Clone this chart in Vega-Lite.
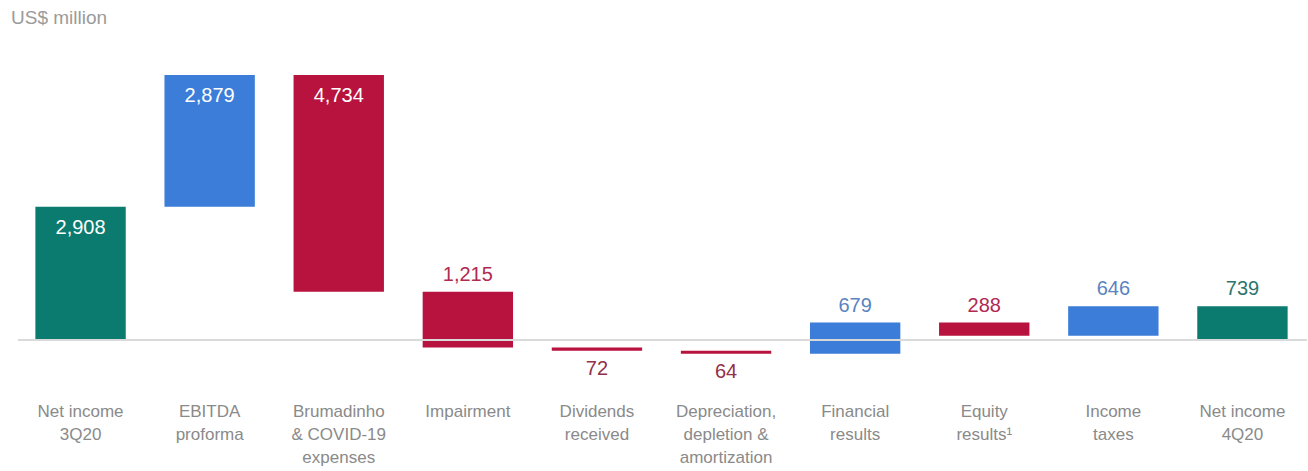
{
  "$schema": "https://vega.github.io/schema/vega-lite/v6.json",
  "autosize": "none",
  "width": 1291,
  "height": 355,
  "padding": {"left": 16, "top": 40, "right": 1, "bottom": 76},
  "background": "white",
  "config": {"view": {"stroke": null}, "font": "Liberation Sans"},
  "title": {"text": "US$ million", "anchor": "start", "frame": "group", "dx": -5, "offset": 12, "fontSize": 19, "fontWeight": "normal", "color": "#9a9a9a", "font": "Liberation Sans"},
  "data": {"values": [
    {"category": "Net income|3Q20", "start": 0, "end": 2908, "amount": 2908, "type": "total"},
    {"category": "EBITDA|proforma", "start": 2908, "end": 5787, "amount": 2879, "type": "increase"},
    {"category": "Brumadinho|& COVID-19|expenses", "start": 5787, "end": 1053, "amount": 4734, "type": "decrease"},
    {"category": "Impairment", "start": 1053, "end": -162, "amount": 1215, "type": "decrease"},
    {"category": "Dividends|received", "start": -162, "end": -234, "amount": 72, "type": "decrease"},
    {"category": "Depreciation,|depletion &|amortization", "start": -234, "end": -298, "amount": 64, "type": "decrease"},
    {"category": "Financial|results", "start": -298, "end": 381, "amount": 679, "type": "increase"},
    {"category": "Equity|results¹", "start": 381, "end": 93, "amount": 288, "type": "decrease"},
    {"category": "Income|taxes", "start": 93, "end": 739, "amount": 646, "type": "increase"},
    {"category": "Net income|4Q20", "start": 0, "end": 739, "amount": 739, "type": "total"}
  ]},
  "encoding": {
    "x": {"field": "category", "type": "nominal", "sort": null,
      "scale": {"paddingInner": 0.3, "paddingOuter": 0.15},
      "axis": {"title": null, "domain": false, "ticks": false, "labelAngle": 0, "labelPadding": 8, "labelFontSize": 17, "labelColor": "#8a8a8a", "labelFont": "Liberation Sans", "labelLineHeight": 23, "labelBaseline": "top", "labelOverlap": false, "labelLimit": 0, "labelBound": false, "labelExpr": "split(datum.label, '|')"}}
  },
  "layer": [
    {
      "mark": {"type": "bar"},
      "encoding": {
        "y": {"field": "start", "type": "quantitative", "scale": {"domain": [-1201, 6550], "nice": false, "zero": false}, "axis": null},
        "y2": {"field": "end"},
        "color": {"field": "type", "type": "nominal", "scale": {"domain": ["total", "increase", "decrease"], "range": ["#0b7b6f", "#3b7dd8", "#b8123e"]}, "legend": null}
      }
    },
    {
      "mark": {"type": "rule", "color": "#d9d9d9", "strokeWidth": 1.2},
      "encoding": {"y": {"datum": 0, "type": "quantitative"}, "x": {"value": 2}, "x2": {"value": 1291}}
    },
    {
      "transform": [
        {"fold": ["start", "end"], "as": ["k", "v"]},
        {"aggregate": [{"op": "max", "field": "v", "as": "top"}, {"op": "min", "field": "v", "as": "bottom"}], "groupby": ["category", "amount", "type"]},
        {"filter": {"field": "category", "oneOf": ["Net income|3Q20", "EBITDA|proforma", "Brumadinho|& COVID-19|expenses"]}}
      ],
      "mark": {"type": "text", "baseline": "top", "dy": 11, "fontSize": 20, "color": "white", "font": "Liberation Sans"},
      "encoding": {
        "y": {"field": "top", "type": "quantitative"},
        "text": {"field": "amount", "type": "quantitative", "format": ",d"}
      }
    },
    {
      "transform": [
        {"fold": ["start", "end"], "as": ["k", "v"]},
        {"aggregate": [{"op": "max", "field": "v", "as": "top"}, {"op": "min", "field": "v", "as": "bottom"}], "groupby": ["category", "amount", "type"]},
        {"filter": {"field": "category", "oneOf": ["Impairment", "Financial|results", "Equity|results¹", "Income|taxes", "Net income|4Q20"]}}
      ],
      "mark": {"type": "text", "baseline": "alphabetic", "dy": -11, "fontSize": 20, "font": "Liberation Sans"},
      "encoding": {
        "y": {"field": "top", "type": "quantitative"},
        "text": {"field": "amount", "type": "quantitative", "format": ",d"},
        "color": {"field": "type", "type": "nominal", "scale": {"domain": ["total", "increase", "decrease"], "range": ["#2d7570", "#5b83c0", "#b02a52"]}, "legend": null}
      }
    },
    {
      "transform": [
        {"fold": ["start", "end"], "as": ["k", "v"]},
        {"aggregate": [{"op": "max", "field": "v", "as": "top"}, {"op": "min", "field": "v", "as": "bottom"}], "groupby": ["category", "amount", "type"]},
        {"filter": {"field": "category", "oneOf": ["Dividends|received", "Depreciation,|depletion &|amortization"]}}
      ],
      "mark": {"type": "text", "baseline": "top", "dy": 8, "fontSize": 20, "color": "#93304b", "font": "Liberation Sans"},
      "encoding": {
        "y": {"field": "bottom", "type": "quantitative"},
        "text": {"field": "amount", "type": "quantitative", "format": ",d"}
      }
    }
  ],
  "resolve": {"scale": {"color": "independent"}}
}
